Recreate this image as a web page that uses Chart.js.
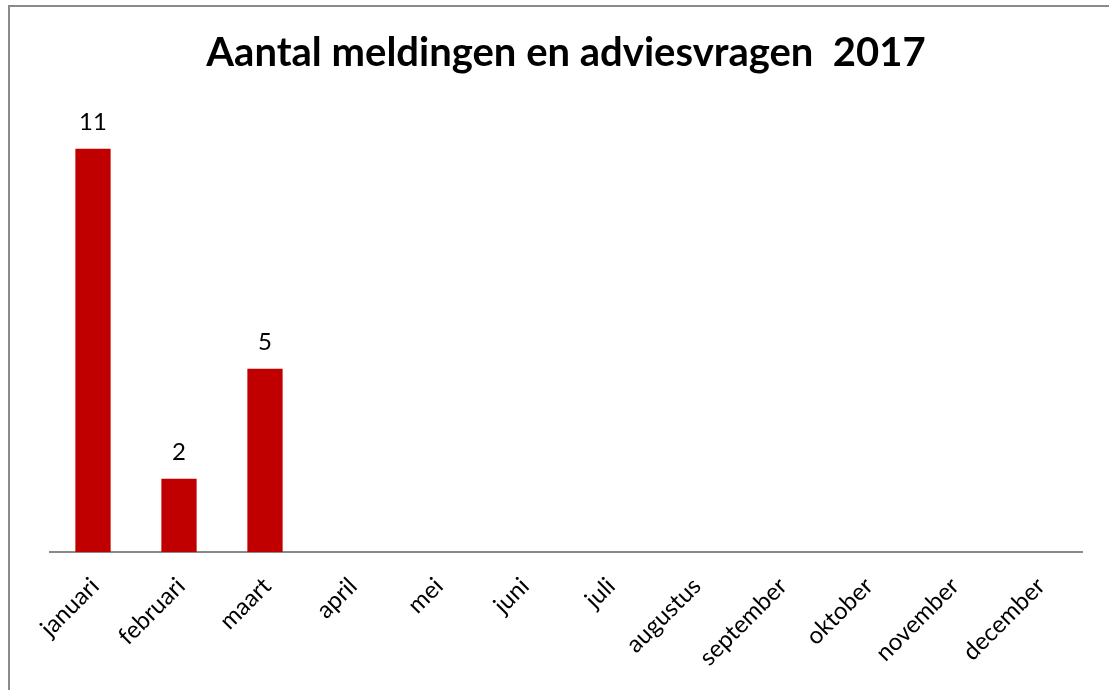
<!DOCTYPE html>
<html>
<head>
<meta charset="utf-8">
<title>Aantal meldingen en adviesvragen 2017</title>
<script src="https://cdn.jsdelivr.net/npm/chart.js@4/dist/chart.umd.min.js"></script>
<style>
  html, body { margin: 0; padding: 0; background: #fff; }
  #wrap { position: relative; width: 1109px; height: 690px; }
</style>
</head>
<body>
<div id="wrap"><canvas id="meldingenChart"></canvas></div>
<script>
// Chart data
const maanden = ['januari', 'februari', 'maart', 'april', 'mei', 'juni',
                 'juli', 'augustus', 'september', 'oktober', 'november', 'december'];
const aantallen = [11, 2, 5, null, null, null, null, null, null, null, null, null];
const yMax = 12;

const FONT = 'Lato, "Open Sans", sans-serif';

// Outer frame (left + top edge only, as in the source image)
const framePlugin = {
  id: 'frame',
  beforeDraw(chart) {
    const ctx = chart.ctx;
    ctx.save();
    ctx.strokeStyle = '#8a8a8a';
    ctx.lineWidth = 2;
    ctx.beginPath();
    ctx.moveTo(9, chart.height);
    ctx.lineTo(9, 6);
    ctx.lineTo(chart.width, 6);
    ctx.stroke();
    ctx.restore();
  }
};

// Value labels above the bars
const valueLabels = {
  id: 'valueLabels',
  afterDatasetsDraw(chart) {
    const ctx = chart.ctx;
    const meta = chart.getDatasetMeta(0);
    ctx.save();
    ctx.font = '24px ' + FONT;
    ctx.fillStyle = '#000';
    ctx.textAlign = 'center';
    ctx.textBaseline = 'middle';
    meta.data.forEach((bar, i) => {
      const v = aantallen[i];
      if (v === null || v === undefined) return;
      ctx.fillText(String(v), bar.x, bar.y - 26);
    });
    ctx.restore();
  }
};

new Chart(document.getElementById('meldingenChart'), {
  type: 'bar',
  data: {
    labels: maanden,
    datasets: [{
      data: aantallen,
      backgroundColor: '#c00000',
      categoryPercentage: 1,
      barPercentage: 0.41
    }]
  },
  options: {
    responsive: true,
    maintainAspectRatio: false,
    animation: false,
    layout: { padding: { left: 50, right: 27, top: 0, bottom: 0 } },
    plugins: {
      legend: { display: false },
      tooltip: { enabled: false },
      title: {
        display: true,
        text: 'Aantal meldingen en adviesvragen  2017',
        color: '#000',
        font: { family: FONT, size: 40, weight: 'bold', lineHeight: 1.2 },
        padding: { top: 29, bottom: 35 }
      }
    },
    scales: {
      x: {
        grid: { display: false, drawTicks: false },
        border: { display: true, color: '#8a8a8a', width: 2 },
        ticks: {
          color: '#000',
          font: { family: FONT, size: 24 },
          minRotation: 45,
          maxRotation: 45,
          padding: 20,
          labelOffset: 2,
          autoSkip: false
        },
        afterFit(scale) { scale.height = 138; }
      },
      y: {
        display: false,
        min: 0,
        max: yMax
      }
    }
  },
  plugins: [framePlugin, valueLabels]
});
</script>
</body>
</html>
